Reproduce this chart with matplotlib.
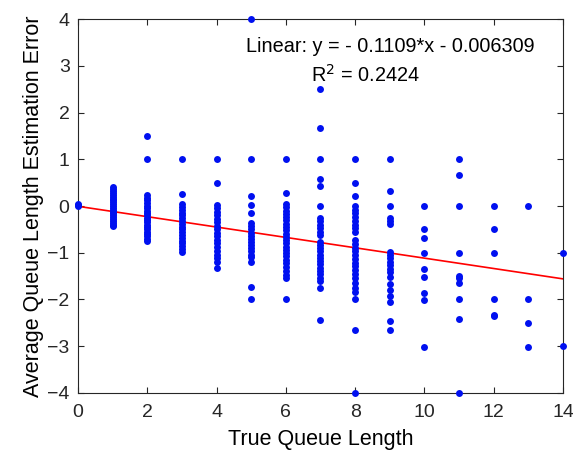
import numpy as np
import matplotlib.pyplot as plt

plt.rcParams['font.family'] = ['Liberation Sans', 'DejaVu Sans']

# errors per true queue length
col0 = [0.05, 0.02, 0.0]
col1 = [0.40, 0.36, 0.32, 0.28, 0.24, 0.20, 0.16, 0.12, 0.08, 0.04, 0.0, -0.04,
        -0.08, -0.12, -0.16, -0.20, -0.24, -0.28, -0.32, -0.36, -0.40, -0.43]
col2 = [1.5, 1.0, 0.23, 0.18, 0.12, 0.06, 0.0, -0.05, -0.10, -0.15, -0.20, -0.25,
        -0.30, -0.35, -0.40, -0.45, -0.50, -0.55, -0.60, -0.65, -0.70, -0.75]
col3 = [1.0, 0.26, 0.04, -0.02, -0.08, -0.14, -0.20, -0.26, -0.32, -0.38, -0.44,
        -0.50, -0.56, -0.62, -0.68, -0.74, -0.80, -0.86, -0.92, -0.98]
col4 = [1.0, 0.5, 0.02, -0.05, -0.12, -0.20, -0.28, -0.35, -0.42, -0.50, -0.57,
        -0.65, -0.72, -0.80, -0.88, -0.97, -1.05, -1.12, -1.20, -1.33]
col5 = [4.0, 1.0, 0.21, 0.02, -0.15, -0.37, -0.43, -0.50, -0.57, -0.64, -0.70,
        -0.77, -0.84, -0.90, -0.97, -1.04, -1.10, -1.19, -1.73, -2.0]
col6 = [1.0, 0.27, 0.04, -0.03, -0.10, -0.17, -0.24, -0.31, -0.38, -0.45, -0.52,
        -0.59, -0.66, -0.73, -0.80, -0.87, -0.94, -1.01, -1.08, -1.15, -1.22,
        -1.30, -1.40, -1.48, -1.55, -2.0]
col7 = [2.5, 1.66, 1.0, 0.57, 0.43, 0.0, -0.26, -0.33, -0.40, -0.47, -0.55, -0.62,
        -0.76, -0.83, -0.90, -0.97, -1.04, -1.11, -1.18, -1.25, -1.32, -1.39,
        -1.46, -1.53, -1.60, -1.76, -2.44]
col8 = [1.0, 0.5, 0.21, 0.0, -0.08, -0.16, -0.24, -0.32, -0.40, -0.48, -0.55,
        -0.73, -0.81, -0.89, -0.97, -1.05, -1.13, -1.21, -1.29, -1.37, -1.45,
        -1.55, -1.65, -1.75, -1.85, -2.0, -2.65, -4.0]
col9 = [1.0, 0.33, 0.0, -0.25, -0.33, -0.38, -0.98, -1.05, -1.12, -1.20, -1.27,
        -1.35, -1.42, -1.51, -1.66, -1.80, -1.92, -2.05, -2.45, -2.65]
col10 = [0.0, -0.5, -0.68, -1.01, -1.35, -1.51, -1.87, -2.01, -3.02]
col11 = [1.0, 0.66, 0.0, -1.0, -1.49, -1.55, -1.64, -2.0, -2.42, -4.0]
col12 = [0.0, -0.5, -1.0, -2.0, -2.33, -2.36]
col13 = [0.0, -2.0, -2.51, -3.02]
col14 = [-1.0, -3.0]

columns = [col0, col1, col2, col3, col4, col5, col6, col7, col8, col9,
           col10, col11, col12, col13, col14]

slope = -0.1109
intercept = -0.006309

xs = np.concatenate([[i] * len(c) for i, c in enumerate(columns)])
ys = np.concatenate(columns)

fig = plt.figure(figsize=(5.73, 4.53), dpi=100)
ax = fig.add_axes([0.136, 0.1325, 0.8465, 0.8255])

ax.plot(xs, ys, 'o', color='#0010f0', markersize=5, markeredgewidth=0,
        clip_on=False, zorder=3)
fit_x = np.array([0, 14])
ax.plot(fit_x, slope * fit_x + intercept, color='#ff0000', linewidth=1.2, zorder=2)

ax.set_xlim(0, 14)
ax.set_ylim(-4, 4)
ax.set_xticks(range(0, 15, 2))
ax.set_yticks(range(-4, 5))
ax.tick_params(direction='in', top=True, right=True, labelsize=14,
               length=4, width=0.8, colors='#262626')
ax.tick_params(axis='x', pad=8)
ax.tick_params(axis='y', pad=6)
for s in ax.spines.values():
    s.set_color('#262626')
    s.set_linewidth(0.8)

ax.set_xlabel('True Queue Length', fontsize=15.5, labelpad=6)
ax.set_ylabel('Average Queue Length Estimation Error', fontsize=15.5, labelpad=2)

ax.text(4.85, 3.30, 'Linear: y = - 0.1109*x - 0.006309', fontsize=14.3, va='baseline')
ax.text(6.72, 2.66, r'R$^2$ = 0.2424', fontsize=14.3, va='baseline')

fig.savefig('out.png', dpi=100)
